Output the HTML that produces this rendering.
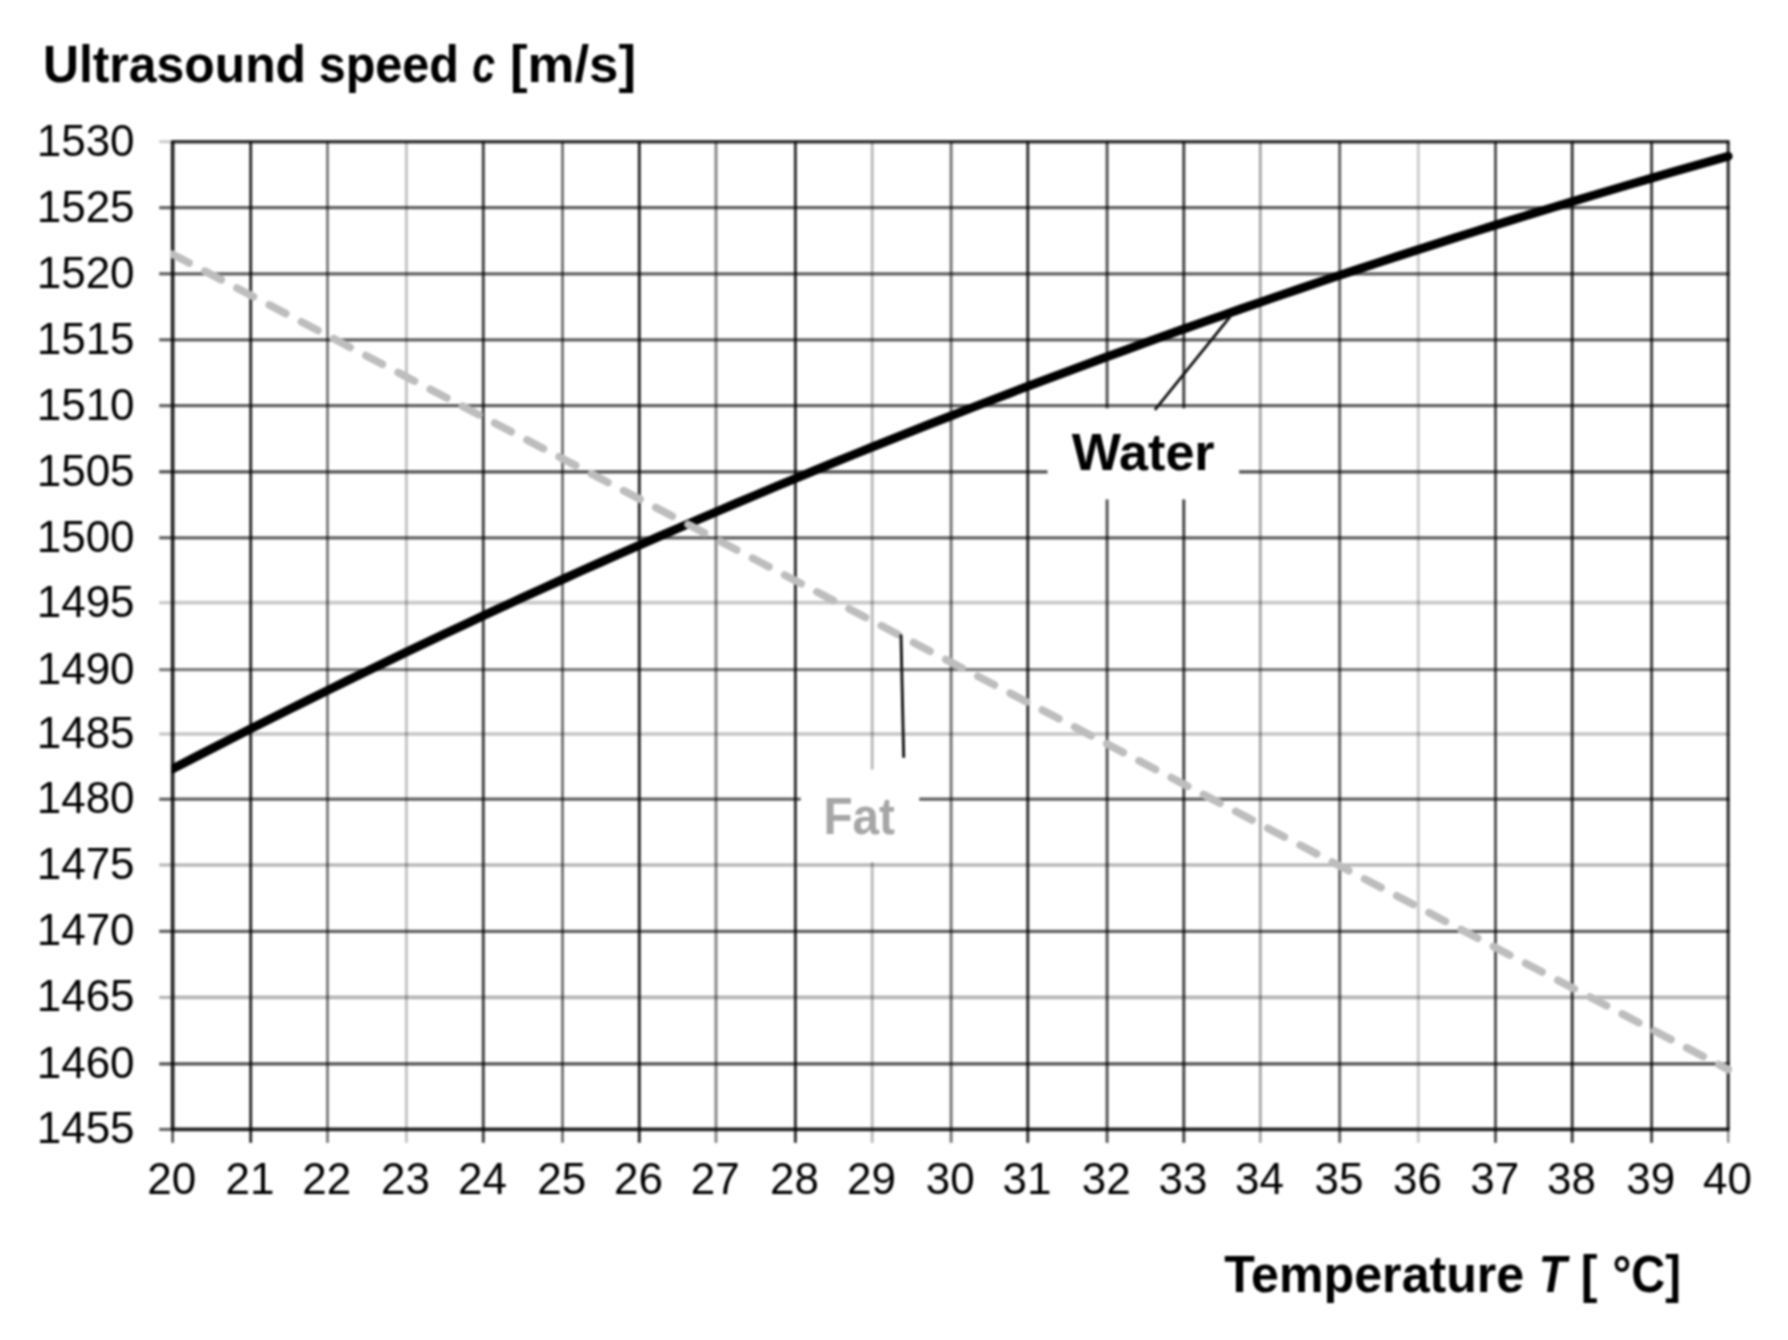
<!DOCTYPE html>
<html><head><meta charset="utf-8"><title>Ultrasound speed vs temperature</title>
<style>html,body{margin:0;padding:0;background:#fff}svg{display:block}</style></head>
<body>
<svg width="1788" height="1340" viewBox="0 0 1788 1340">
<rect width="1788" height="1340" fill="#fff"/>
<defs><filter id="soft" x="0" y="0" width="100%" height="100%" filterUnits="userSpaceOnUse" color-interpolation-filters="sRGB"><feGaussianBlur stdDeviation="0.85"/></filter></defs>
<g filter="url(#soft)">
<rect width="1788" height="1340" fill="#fff"/>
<g fill="none" stroke="#000">
<line x1="172.65" y1="141.7" x2="172.65" y2="1129.4" stroke-opacity="0.835" stroke-width="3.8"/>
<line x1="172.65" y1="1129.4" x2="172.65" y2="1142.8" stroke-opacity="0.7" stroke-width="2.6"/>
<line x1="250.7" y1="141.7" x2="250.7" y2="1129.4" stroke-opacity="0.82" stroke-width="3.0"/>
<line x1="250.7" y1="1129.4" x2="250.7" y2="1142.8" stroke-opacity="0.82" stroke-width="3.0"/>
<line x1="327.5" y1="141.7" x2="327.5" y2="1129.4" stroke-opacity="0.498" stroke-width="3.0"/>
<line x1="327.5" y1="1129.4" x2="327.5" y2="1142.8" stroke-opacity="0.498" stroke-width="3.0"/>
<line x1="406.4" y1="141.7" x2="406.4" y2="1129.4" stroke-opacity="0.231" stroke-width="3.0"/>
<line x1="406.4" y1="1129.4" x2="406.4" y2="1142.8" stroke-opacity="0.231" stroke-width="3.0"/>
<line x1="483.3" y1="141.7" x2="483.3" y2="1129.4" stroke-opacity="0.733" stroke-width="3.0"/>
<line x1="483.3" y1="1129.4" x2="483.3" y2="1142.8" stroke-opacity="0.733" stroke-width="3.0"/>
<line x1="562.5" y1="141.7" x2="562.5" y2="1129.4" stroke-opacity="0.533" stroke-width="3.0"/>
<line x1="562.5" y1="1129.4" x2="562.5" y2="1142.8" stroke-opacity="0.533" stroke-width="3.0"/>
<line x1="639.3" y1="141.7" x2="639.3" y2="1129.4" stroke-opacity="0.82" stroke-width="3.0"/>
<line x1="639.3" y1="1129.4" x2="639.3" y2="1142.8" stroke-opacity="0.82" stroke-width="3.0"/>
<line x1="716.0" y1="141.7" x2="716.0" y2="1129.4" stroke-opacity="0.467" stroke-width="3.0"/>
<line x1="716.0" y1="1129.4" x2="716.0" y2="1142.8" stroke-opacity="0.467" stroke-width="3.0"/>
<line x1="795.4" y1="141.7" x2="795.4" y2="1129.4" stroke-opacity="0.8" stroke-width="3.0"/>
<line x1="795.4" y1="1129.4" x2="795.4" y2="1142.8" stroke-opacity="0.8" stroke-width="3.0"/>
<line x1="872.2" y1="141.7" x2="872.2" y2="1129.4" stroke-opacity="0.267" stroke-width="3.0"/>
<line x1="872.2" y1="1129.4" x2="872.2" y2="1142.8" stroke-opacity="0.267" stroke-width="3.0"/>
<line x1="951.1" y1="141.7" x2="951.1" y2="1129.4" stroke-opacity="0.533" stroke-width="3.0"/>
<line x1="951.1" y1="1129.4" x2="951.1" y2="1142.8" stroke-opacity="0.533" stroke-width="3.0"/>
<line x1="1027.8" y1="141.7" x2="1027.8" y2="1129.4" stroke-opacity="0.8" stroke-width="3.0"/>
<line x1="1027.8" y1="1129.4" x2="1027.8" y2="1142.8" stroke-opacity="0.8" stroke-width="3.0"/>
<line x1="1107.1" y1="141.7" x2="1107.1" y2="1129.4" stroke-opacity="0.667" stroke-width="3.0"/>
<line x1="1107.1" y1="1129.4" x2="1107.1" y2="1142.8" stroke-opacity="0.667" stroke-width="3.0"/>
<line x1="1183.8" y1="141.7" x2="1183.8" y2="1129.4" stroke-opacity="0.733" stroke-width="3.0"/>
<line x1="1183.8" y1="1129.4" x2="1183.8" y2="1142.8" stroke-opacity="0.733" stroke-width="3.0"/>
<line x1="1260.3" y1="141.7" x2="1260.3" y2="1129.4" stroke-opacity="0.333" stroke-width="3.0"/>
<line x1="1260.3" y1="1129.4" x2="1260.3" y2="1142.8" stroke-opacity="0.333" stroke-width="3.0"/>
<line x1="1339.7" y1="141.7" x2="1339.7" y2="1129.4" stroke-opacity="0.6" stroke-width="3.0"/>
<line x1="1339.7" y1="1129.4" x2="1339.7" y2="1142.8" stroke-opacity="0.6" stroke-width="3.0"/>
<line x1="1418.3" y1="141.7" x2="1418.3" y2="1129.4" stroke-opacity="0.2" stroke-width="3.0"/>
<line x1="1418.3" y1="1129.4" x2="1418.3" y2="1142.8" stroke-opacity="0.2" stroke-width="3.0"/>
<line x1="1495.5" y1="141.7" x2="1495.5" y2="1129.4" stroke-opacity="0.667" stroke-width="3.0"/>
<line x1="1495.5" y1="1129.4" x2="1495.5" y2="1142.8" stroke-opacity="0.667" stroke-width="3.0"/>
<line x1="1572.2" y1="141.7" x2="1572.2" y2="1129.4" stroke-opacity="0.773" stroke-width="3.0"/>
<line x1="1572.2" y1="1129.4" x2="1572.2" y2="1142.8" stroke-opacity="0.773" stroke-width="3.0"/>
<line x1="1651.6" y1="141.7" x2="1651.6" y2="1129.4" stroke-opacity="0.733" stroke-width="3.0"/>
<line x1="1651.6" y1="1129.4" x2="1651.6" y2="1142.8" stroke-opacity="0.733" stroke-width="3.0"/>
<line x1="1728.2" y1="141.7" x2="1728.2" y2="1129.4" stroke-opacity="0.8" stroke-width="3.2"/>
<line x1="1728.2" y1="1129.4" x2="1728.2" y2="1142.8" stroke-opacity="0.45" stroke-width="2.4"/>
<line x1="171.15" y1="1129.4" x2="1729.5" y2="1129.4" stroke-opacity="0.86" stroke-width="3.6"/>
<line x1="159.2" y1="1129.4" x2="171.15" y2="1129.4" stroke-opacity="0.6" stroke-width="3.2"/>
<line x1="171.15" y1="1063.9" x2="1729.5" y2="1063.9" stroke-opacity="0.68" stroke-width="3.2"/>
<line x1="159.2" y1="1063.9" x2="171.15" y2="1063.9" stroke-opacity="0.68" stroke-width="3.2"/>
<line x1="171.15" y1="997.4" x2="1729.5" y2="997.4" stroke-opacity="0.292" stroke-width="3.7"/>
<line x1="159.2" y1="997.4" x2="171.15" y2="997.4" stroke-opacity="0.292" stroke-width="3.2"/>
<line x1="171.15" y1="931.3" x2="1729.5" y2="931.3" stroke-opacity="0.623" stroke-width="3.2"/>
<line x1="159.2" y1="931.3" x2="171.15" y2="931.3" stroke-opacity="0.623" stroke-width="3.2"/>
<line x1="171.15" y1="865.0" x2="1729.5" y2="865.0" stroke-opacity="0.28" stroke-width="3.7"/>
<line x1="159.2" y1="865.0" x2="171.15" y2="865.0" stroke-opacity="0.28" stroke-width="3.2"/>
<line x1="171.15" y1="799.2" x2="1729.5" y2="799.2" stroke-opacity="0.623" stroke-width="3.2"/>
<line x1="159.2" y1="799.2" x2="171.15" y2="799.2" stroke-opacity="0.623" stroke-width="3.2"/>
<line x1="171.15" y1="734.0" x2="1729.5" y2="734.0" stroke-opacity="0.226" stroke-width="3.7"/>
<line x1="159.2" y1="734.0" x2="171.15" y2="734.0" stroke-opacity="0.226" stroke-width="3.2"/>
<line x1="171.15" y1="669.7" x2="1729.5" y2="669.7" stroke-opacity="0.51" stroke-width="3.2"/>
<line x1="159.2" y1="669.7" x2="171.15" y2="669.7" stroke-opacity="0.51" stroke-width="3.2"/>
<line x1="171.15" y1="602.7" x2="1729.5" y2="602.7" stroke-opacity="0.21" stroke-width="3.7"/>
<line x1="159.2" y1="602.7" x2="171.15" y2="602.7" stroke-opacity="0.21" stroke-width="3.2"/>
<line x1="171.15" y1="537.8" x2="1729.5" y2="537.8" stroke-opacity="0.623" stroke-width="3.2"/>
<line x1="159.2" y1="537.8" x2="171.15" y2="537.8" stroke-opacity="0.623" stroke-width="3.2"/>
<line x1="171.15" y1="471.8" x2="1729.5" y2="471.8" stroke-opacity="0.68" stroke-width="3.2"/>
<line x1="159.2" y1="471.8" x2="171.15" y2="471.8" stroke-opacity="0.68" stroke-width="3.2"/>
<line x1="171.15" y1="405.7" x2="1729.5" y2="405.7" stroke-opacity="0.623" stroke-width="3.2"/>
<line x1="159.2" y1="405.7" x2="171.15" y2="405.7" stroke-opacity="0.623" stroke-width="3.2"/>
<line x1="171.15" y1="339.8" x2="1729.5" y2="339.8" stroke-opacity="0.623" stroke-width="3.2"/>
<line x1="159.2" y1="339.8" x2="171.15" y2="339.8" stroke-opacity="0.623" stroke-width="3.2"/>
<line x1="171.15" y1="273.8" x2="1729.5" y2="273.8" stroke-opacity="0.623" stroke-width="3.2"/>
<line x1="159.2" y1="273.8" x2="171.15" y2="273.8" stroke-opacity="0.623" stroke-width="3.2"/>
<line x1="171.15" y1="207.7" x2="1729.5" y2="207.7" stroke-opacity="0.623" stroke-width="3.2"/>
<line x1="159.2" y1="207.7" x2="171.15" y2="207.7" stroke-opacity="0.623" stroke-width="3.2"/>
<line x1="171.15" y1="141.7" x2="1729.5" y2="141.7" stroke-opacity="0.8" stroke-width="3.4"/>
<line x1="159.2" y1="141.7" x2="171.15" y2="141.7" stroke-opacity="0.2" stroke-width="3.2"/>
</g>
<rect x="1047.5" y="408.3" width="191.6" height="91.1" fill="#fff"/>
<rect x="800.7" y="769.6" width="118.5" height="92.6" fill="#fff"/>
<clipPath id="wc"><rect x="171.4" y="0" width="1700" height="1340"/></clipPath>
<polyline clip-path="url(#wc)" points="172.65,768.83 192.09,758.75 211.54,748.74 230.98,738.80 250.43,728.93 269.87,719.12 289.32,709.38 308.76,699.71 328.21,690.10 347.65,680.56 367.09,671.08 386.54,661.67 405.98,652.32 425.43,643.04 444.87,633.83 464.32,624.68 483.76,615.59 503.20,606.56 522.65,597.60 542.09,588.71 561.54,579.87 580.98,571.10 600.43,562.39 619.87,553.75 639.31,545.16 658.76,536.64 678.20,528.18 697.65,519.78 717.09,511.44 736.54,503.17 755.98,494.95 775.43,486.79 794.87,478.69 814.31,470.66 833.76,462.68 853.20,454.76 872.65,446.90 892.09,439.10 911.54,431.36 930.98,423.68 950.42,416.05 969.87,408.49 989.31,400.98 1008.76,393.53 1028.20,386.13 1047.65,378.80 1067.09,371.52 1086.54,364.29 1105.98,357.12 1125.42,350.01 1144.87,342.96 1164.31,335.96 1183.76,329.01 1203.20,322.13 1222.65,315.29 1242.09,308.51 1261.54,301.79 1280.98,295.12 1300.42,288.50 1319.87,281.94 1339.31,275.43 1358.76,268.98 1378.20,262.58 1397.65,256.23 1417.09,249.94 1436.53,243.70 1455.98,237.51 1475.42,231.37 1494.87,225.29 1514.31,219.25 1533.76,213.27 1553.20,207.34 1572.64,201.47 1592.09,195.64 1611.53,189.86 1630.98,184.14 1650.42,178.46 1669.87,172.84 1689.31,167.27 1708.76,161.74 1728.20,156.27" fill="none" stroke="#000" stroke-width="8.8" stroke-linecap="round" stroke-linejoin="round"/>
<clipPath id="fc"><rect x="170.9" y="0" width="1700" height="1340"/></clipPath>
<line clip-path="url(#fc)" x1="172.65" y1="254.3" x2="1728.2" y2="1069.5" stroke="#bdbdbd" stroke-width="7.7" stroke-linecap="round" stroke-dasharray="18.5 17.87"/>
<line x1="1230.2" y1="316.7" x2="1154.9" y2="409.9" stroke="#111" stroke-width="2.8"/>
<line x1="901" y1="634.5" x2="903.7" y2="757.7" stroke="#111" stroke-width="2.9"/>
<g font-family="'Liberation Sans', Arial, sans-serif" font-size="44" fill="#000">
<text x="134.6" y="1143.2" text-anchor="end">1455</text>
<text x="134.6" y="1077.7" text-anchor="end">1460</text>
<text x="134.6" y="1011.2" text-anchor="end">1465</text>
<text x="134.6" y="945.1" text-anchor="end">1470</text>
<text x="134.6" y="878.8" text-anchor="end">1475</text>
<text x="134.6" y="813.0" text-anchor="end">1480</text>
<text x="134.6" y="747.8" text-anchor="end">1485</text>
<text x="134.6" y="683.5" text-anchor="end">1490</text>
<text x="134.6" y="616.5" text-anchor="end">1495</text>
<text x="134.6" y="551.6" text-anchor="end">1500</text>
<text x="134.6" y="485.6" text-anchor="end">1505</text>
<text x="134.6" y="419.5" text-anchor="end">1510</text>
<text x="134.6" y="353.6" text-anchor="end">1515</text>
<text x="134.6" y="287.6" text-anchor="end">1520</text>
<text x="134.6" y="221.5" text-anchor="end">1525</text>
<text x="134.6" y="155.5" text-anchor="end">1530</text>
<text x="171.8" y="1193.9" text-anchor="middle">20</text>
<text x="249.9" y="1193.9" text-anchor="middle">21</text>
<text x="326.7" y="1193.9" text-anchor="middle">22</text>
<text x="405.6" y="1193.9" text-anchor="middle">23</text>
<text x="482.5" y="1193.9" text-anchor="middle">24</text>
<text x="561.7" y="1193.9" text-anchor="middle">25</text>
<text x="638.5" y="1193.9" text-anchor="middle">26</text>
<text x="715.2" y="1193.9" text-anchor="middle">27</text>
<text x="794.6" y="1193.9" text-anchor="middle">28</text>
<text x="871.4" y="1193.9" text-anchor="middle">29</text>
<text x="950.3" y="1193.9" text-anchor="middle">30</text>
<text x="1027.0" y="1193.9" text-anchor="middle">31</text>
<text x="1106.3" y="1193.9" text-anchor="middle">32</text>
<text x="1183.0" y="1193.9" text-anchor="middle">33</text>
<text x="1259.5" y="1193.9" text-anchor="middle">34</text>
<text x="1338.9" y="1193.9" text-anchor="middle">35</text>
<text x="1417.5" y="1193.9" text-anchor="middle">36</text>
<text x="1494.7" y="1193.9" text-anchor="middle">37</text>
<text x="1571.4" y="1193.9" text-anchor="middle">38</text>
<text x="1650.8" y="1193.9" text-anchor="middle">39</text>
<text x="1727.4" y="1193.9" text-anchor="middle">40</text>
</g>
<g font-family="'Liberation Sans', Arial, sans-serif" font-weight="700" font-size="51.2">
<text y="81.8" fill="#000"><tspan x="42.91" textLength="263.18" lengthAdjust="spacingAndGlyphs">Ultrasound</tspan> <tspan x="318.70" textLength="140.26" lengthAdjust="spacingAndGlyphs">speed</tspan> <tspan x="472.37" textLength="22.79" lengthAdjust="spacingAndGlyphs" font-style="italic">c</tspan> <tspan x="509.90" textLength="126.17" lengthAdjust="spacingAndGlyphs">[m/s]</tspan></text>
<text y="470.0" fill="#000"><tspan x="1071.80" textLength="142.85" lengthAdjust="spacingAndGlyphs">Water</tspan></text>
<text y="834.1" fill="#a6a6a6"><tspan x="823.50" textLength="71.47" lengthAdjust="spacingAndGlyphs">Fat</tspan></text>
<text y="1291.7" fill="#000"><tspan x="1224.20" textLength="300.08" lengthAdjust="spacingAndGlyphs">Temperature</tspan> <tspan x="1538.71" textLength="27.84" lengthAdjust="spacingAndGlyphs" font-style="italic">T</tspan> <tspan x="1580.74" textLength="16.71" lengthAdjust="spacingAndGlyphs">[</tspan> <tspan x="1612.48" textLength="68.45" lengthAdjust="spacingAndGlyphs">°C]</tspan></text>
</g>
</g>
</svg>
</body></html>
